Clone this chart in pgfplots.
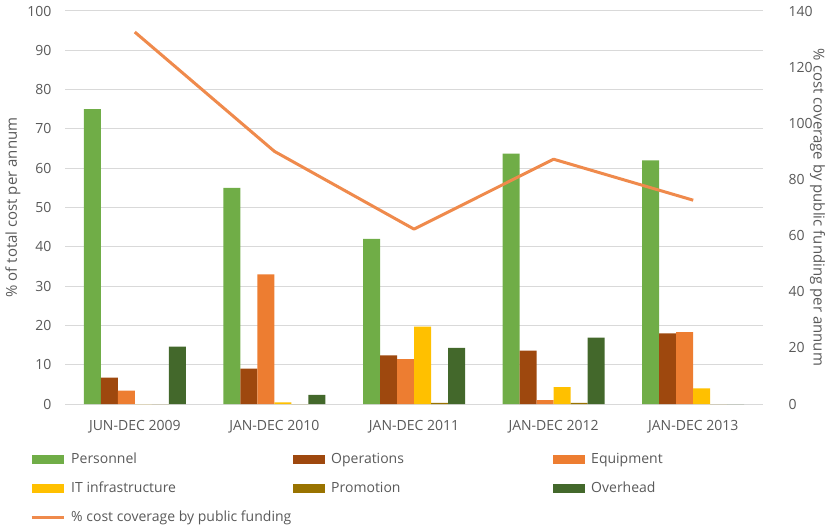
\documentclass[border=0pt]{standalone}
\usepackage{pgfplots}
\pgfplotsset{compat=1.18}
\usepackage{fontspec}
\setmainfont{Open Sans}
\definecolor{cPers}{HTML}{70AD47}
\definecolor{cOps}{HTML}{9E480E}
\definecolor{cEq}{HTML}{ED7D31}
\definecolor{cIT}{HTML}{FFC000}
\definecolor{cProm}{HTML}{997300}
\definecolor{cOver}{HTML}{43682B}
\definecolor{cLine}{HTML}{EF8A4C}
\definecolor{txt}{HTML}{595959}
\definecolor{gridc}{HTML}{D9D9D9}
\newcommand{\fs}{\fontsize{14}{16}\selectfont}
\newcommand{\fl}{\fontsize{15}{17}\selectfont}
\newcommand{\lw}[1]{\makebox[222pt][l]{#1}}
\begin{document}
\begin{tikzpicture}[x=1pt,y=1pt]
\useasboundingbox (-65,-126) rectangle (764,404);
\pgfplotsset{
  common/.style={
    at={(0,0)}, anchor=south west,
    width=698pt, height=393pt, scale only axis,
    xmin=-0.5, xmax=4.5, enlarge x limits=false,
    major tick length=0pt,
    tick style={draw=none},
    /pgf/number format/assume math mode=true,
    tick label style={font=\fs, text=txt},
    label style={font=\fl, text=txt},
  },
  barlegend/.style={legend image code/.code={\path[##1] (0pt,-4.5pt) rectangle (32pt,4.5pt);}},
  linelegend/.style={legend image code/.code={\draw[##1] (0pt,0pt) -- (32pt,0pt);}},
}
\begin{axis}[common,
  ymin=0, ymax=100, ytick={0,10,...,100},
  xtick={0,1,2,3,4},
  xticklabels={JUN-DEC 2009,JAN-DEC 2010,JAN-DEC 2011,JAN-DEC 2012,JAN-DEC 2013},
  xticklabel style={yshift=-13pt},
  yticklabel style={xshift=-10pt},
  axis line style={draw=none},
  ymajorgrids, grid style={gridc, line width=1pt},
  ybar=0pt, bar width=17pt,
  ylabel={\% of total cost per annum},
  ylabel style={at={(axis description cs:-0.0745,0.5)}, anchor=center},
  legend columns=3,
  legend cell align=left,
  legend style={at={(-0.0501,-0.122)}, anchor=north west, draw=none, fill=none,
    inner sep=0pt, font=\fs, text=txt,
    row sep=14pt,
    nodes={inner sep=0pt, text height=11pt, text depth=4pt},
    /tikz/every odd column/.append style={column sep=6pt}},
]
\addplot[barlegend, fill=cPers, draw=none] coordinates {(0,75.0) (1,55.0) (2,42.0) (3,63.7) (4,62.0)};
\addlegendentry{\lw{Personnel}}
\addplot[barlegend, fill=cOps, draw=none] coordinates {(0,6.7) (1,9.0) (2,12.4) (3,13.6) (4,18.0)};
\addlegendentry{\lw{Operations}}
\addplot[barlegend, fill=cEq, draw=none] coordinates {(0,3.4) (1,33.0) (2,11.4) (3,1.0) (4,18.3)};
\addlegendentry{\lw{Equipment}}
\addplot[barlegend, fill=cIT, draw=none] coordinates {(0,0) (1,0.4) (2,19.7) (3,4.3) (4,4.0)};
\addlegendentry{\lw{IT infrastructure}}
\addplot[barlegend, fill=cProm, draw=none] coordinates {(0,0) (1,0) (2,0.3) (3,0.3) (4,0)};
\addlegendentry{\lw{Promotion}}
\addplot[barlegend, fill=cOver, draw=none] coordinates {(0,14.6) (1,2.3) (2,14.3) (3,16.9) (4,0)};
\addlegendentry{\lw{Overhead}}
\addlegendimage{linelegend, cLine, line width=3pt}
\addlegendentry{\lw{\% cost coverage by public funding}}
\end{axis}
\begin{axis}[common,
  ymin=0, ymax=140, ytick={0,20,...,140},
  axis x line=none,
  axis y line*=right,
  y axis line style={draw=none},
  yticklabel style={anchor=west, xshift=22pt},
  ylabel={\% cost coverage by public funding per annum},
  ylabel style={at={(axis description cs:1.078,0.5)}, anchor=center, rotate=-180},
]
\addplot[cLine, line width=3pt, line join=round, mark=none] coordinates {(0,132.5) (1,90.0) (2,62.3) (3,87.2) (4,72.6)};
\end{axis}
\end{tikzpicture}
\end{document}
